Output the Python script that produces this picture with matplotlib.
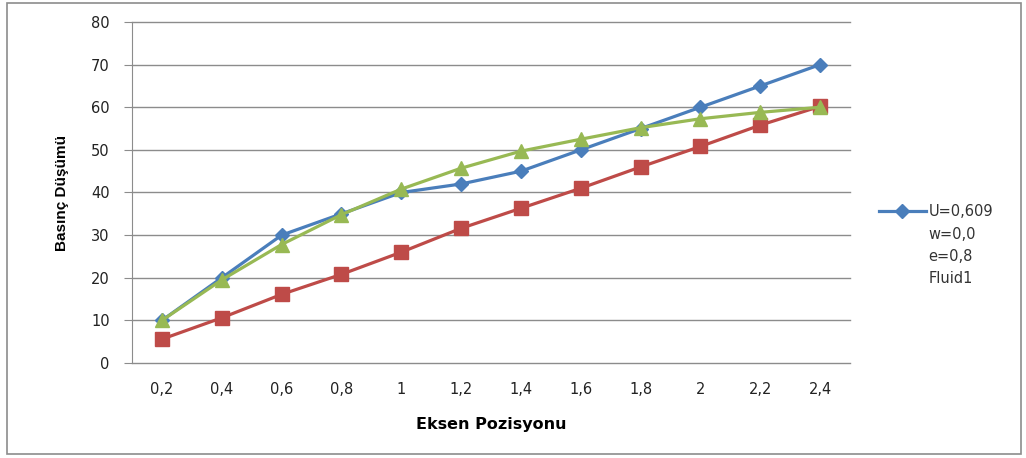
import matplotlib
matplotlib.use("Agg")
import matplotlib.pyplot as plt
from matplotlib.patches import Rectangle
from matplotlib.lines import Line2D

categories = ["0,2", "0,4", "0,6", "0,8", "1", "1,2", "1,4", "1,6", "1,8", "2", "2,2", "2,4"]
blue = [10, 20, 30, 35, 40, 42, 45, 50, 55, 60, 65, 70]
red = [5.6, 10.6, 16.1, 20.8, 26, 31.6, 36.3, 41, 46, 50.8, 55.8, 60.2]
green = [10, 19.5, 27.8, 34.8, 40.8, 45.7, 49.7, 52.5, 55.2, 57.3, 58.8, 60]
legend_lines = ["U=0,609", "w=0,0", "e=0,8", "Fluid1"]
y_ticks = [0, 10, 20, 30, 40, 50, 60, 70, 80]

fig = plt.figure(figsize=(10.26, 4.58), dpi=100)
fig.patches.append(Rectangle((0.007, 0.008), 0.988, 0.985, transform=fig.transFigure,
                             fill=False, edgecolor="#8c8c8c", linewidth=1.2))
ax = fig.add_axes([0.1287, 0.2074, 0.6998, 0.7446])

x = list(range(len(categories)))
lb, = ax.plot(x, blue, color="#4A7EBB", lw=2.3, marker="D", ms=7, zorder=3)
ax.plot(x, red, color="#BE4B48", lw=2.3, marker="s", ms=10, zorder=3)
ax.plot(x, green, color="#98B954", lw=2.3, marker="^", ms=10, zorder=4)

ax.set_xlim(-0.5, len(categories) - 0.5)
ax.set_ylim(0, 80)
ax.set_yticks(y_ticks)
ax.set_xticks(x)
ax.set_xticklabels(categories)
for yv in y_ticks:
    ax.axhline(yv, color="#8c8c8c", lw=1, zorder=1, clip_on=False)
for s in ["top", "right", "bottom"]:
    ax.spines[s].set_visible(False)
ax.spines["left"].set_color("#8c8c8c")
ax.tick_params(axis="y", length=6, color="#8c8c8c", labelsize=10.5, pad=10, labelcolor="#222222")
ax.tick_params(axis="x", length=0, labelsize=10.5, pad=14, labelcolor="#222222")
ax.set_xlabel("Eksen Pozisyonu", fontsize=11.5, fontweight="bold", labelpad=14)
ax.set_ylabel("Basınç Düşümü", fontsize=11, fontweight="bold", labelpad=16,
              family=["Liberation Sans Narrow", "Liberation Sans", "DejaVu Sans"])

blank = Line2D([], [], color="none")
handles = [lb] + [blank] * (len(legend_lines) - 1)
leg = ax.legend(handles=handles, labels=legend_lines, loc="upper left",
                bbox_to_anchor=(1.032, 0.482), frameon=False,
                fontsize=10.5, handlelength=3.2, borderaxespad=0, handletextpad=0.2,
                labelspacing=0.5)
for t in leg.get_texts():
    t.set_color("#333333")

fig.savefig("out.png", dpi=100)
